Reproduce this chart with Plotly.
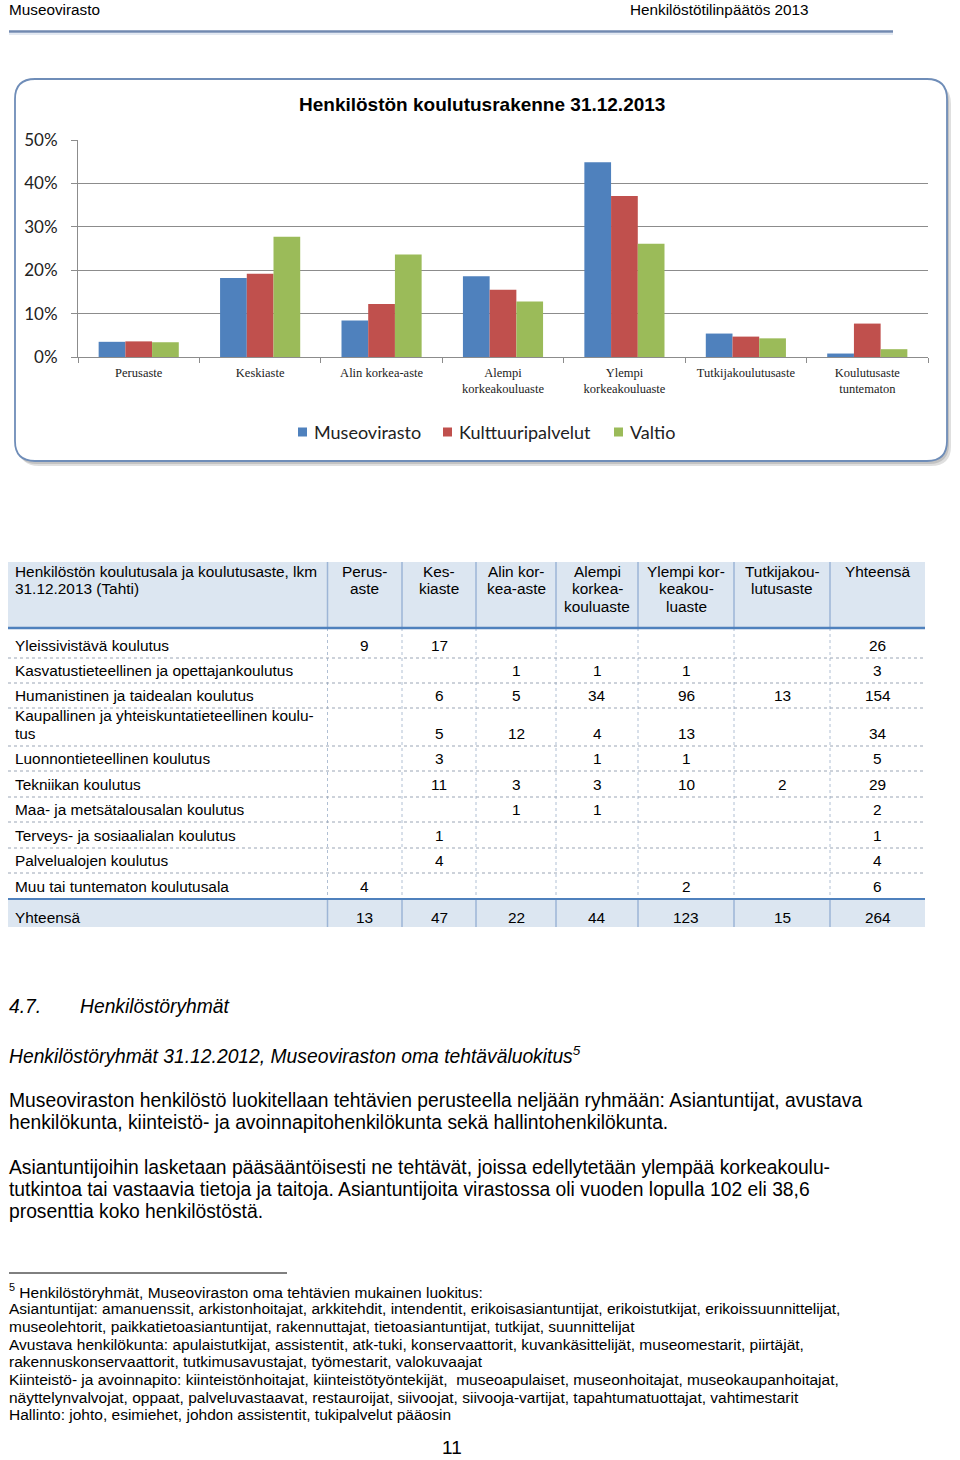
import plotly.graph_objects as go

W, H = 960, 1460

# ---------------- chart data ----------------
categories = ["Perusaste", "Keskiaste", "Alin korkea-aste", "Alempi<br>korkeakouluaste",
              "Ylempi<br>korkeakouluaste", "Tutkijakoulutusaste", "Koulutusaste<br>tuntematon"]
series_names = ["Museovirasto", "Kulttuuripalvelut", "Valtio"]
museovirasto = [0.035, 0.182, 0.084, 0.186, 0.449, 0.054, 0.008]
kulttuuripalvelut = [0.036, 0.192, 0.122, 0.155, 0.371, 0.047, 0.077]
valtio = [0.034, 0.277, 0.236, 0.128, 0.261, 0.043, 0.018]
y_tick_values = [0, 0.1, 0.2, 0.3, 0.4, 0.5]
chart_title = "Henkilöstön koulutusrakenne 31.12.2013"

# ---------------- table data ----------------
table_header = ["Henkilöstön koulutusala ja koulutusaste, lkm<br>31.12.2013 (Tahti)",
                "Perus-<br>aste", "Kes-<br>kiaste", "Alin kor-<br>kea-aste",
                "Alempi<br>korkea-<br>kouluaste", "Ylempi kor-<br>keakou-<br>luaste",
                "Tutkijakou-<br>lutusaste", "Yhteensä"]
row_labels = ["Yleissivistävä koulutus",
              "Kasvatustieteellinen ja opettajankoulutus",
              "Humanistinen ja taidealan koulutus",
              "Kaupallinen ja yhteiskuntatieteellinen koulu-<br>tus",
              "Luonnontieteellinen koulutus",
              "Tekniikan koulutus",
              "Maa- ja metsätalousalan koulutus",
              "Terveys- ja sosiaalialan koulutus",
              "Palvelualojen koulutus",
              "Muu tai tuntematon koulutusala",
              "Yhteensä"]
col_perusaste = [9, None, None, None, None, None, None, None, None, 4, 13]
col_keskiaste = [17, None, 6, 5, 3, 11, None, 1, 4, None, 47]
col_alin = [None, 1, 5, 12, None, 3, 1, None, None, None, 22]
col_alempi = [None, 1, 34, 4, 1, 3, 1, None, None, None, 44]
col_ylempi = [None, 1, 96, 13, 1, 10, None, None, None, 2, 123]
col_tutkija = [None, None, 13, None, None, 2, None, None, None, None, 15]
col_yhteensa = [26, 3, 154, 34, 5, 29, 2, 1, 4, 6, 264]

# ---------------- text ----------------
header_left = "Museovirasto"
header_right = "Henkilöstötilinpäätös 2013"
section_no = "4.7."
section_title = "Henkilöstöryhmät"
sub_title = "Henkilöstöryhmät 31.12.2012, Museoviraston oma tehtäväluokitus<sup>5</sup>"
para_lines = [
    "Museoviraston henkilöstö luokitellaan tehtävien perusteella neljään ryhmään: Asiantuntijat, avustava",
    "henkilökunta, kiinteistö- ja avoinnapitohenkilökunta sekä hallintohenkilökunta.",
    "Asiantuntijoihin lasketaan pääsääntöisesti ne tehtävät, joissa edellytetään ylempää korkeakoulu-",
    "tutkintoa tai vastaavia tietoja ja taitoja. Asiantuntijoita virastossa oli vuoden lopulla 102 eli 38,6",
    "prosenttia koko henkilöstöstä.",
]
footnote_lines = [
    "<sup>5</sup> Henkilöstöryhmät, Museoviraston oma tehtävien mukainen luokitus:",
    "Asiantuntijat: amanuenssit, arkistonhoitajat, arkkitehdit, intendentit, erikoisasiantuntijat, erikoistutkijat, erikoissuunnittelijat,",
    "museolehtorit, paikkatietoasiantuntijat, rakennuttajat, tietoasiantuntijat, tutkijat, suunnittelijat",
    "Avustava henkilökunta: apulaistutkijat, assistentit, atk-tuki, konservaattorit, kuvankäsittelijät, museomestarit, piirtäjät,",
    "rakennuskonservaattorit, tutkimusavustajat, työmestarit, valokuvaajat",
    "Kiinteistö- ja avoinnapito: kiinteistönhoitajat, kiinteistötyöntekijät,  museoapulaiset, museonhoitajat, museokaupanhoitajat,",
    "näyttelynvalvojat, oppaat, palveluvastaavat, restauroijat, siivoojat, siivooja-vartijat, tapahtumatuottajat, vahtimestarit",
    "Hallinto: johto, esimiehet, johdon assistentit, tukipalvelut pääosin",
]
page_number = "11"

ARIAL = "Liberation Sans, Arial, sans-serif"
CALIBRI = "Lato, Calibri, sans-serif"
TIMES = "Liberation Serif, Times New Roman, serif"


def px(x):
    return x / W


def py(y):
    return 1 - y / H


colors = ["#4f81bd", "#c0504d", "#9bbb59"]
fig = go.Figure()
for name, vals, col in zip(series_names, [museovirasto, kulttuuripalvelut, valtio], colors):
    fig.add_trace(go.Bar(x=categories, y=vals, name=name, showlegend=False,
                         marker=dict(color=col, line=dict(width=0))))

shapes = []
ann = []


def txt(x, y, s, size, family=ARIAL, anchor="left", color="#000", xref="paper", yref="paper", yanchor="middle"):
    if xref == "paper":
        xx, yy = px(x), py(y)
    else:
        xx, yy = x, y
    ann.append(dict(x=xx, y=yy, xref=xref, yref=yref, text=s, showarrow=False, borderpad=0,
                    xanchor=anchor, yanchor=yanchor, font=dict(family=family, size=size, color=color)))


# ---------------- page header ----------------
shapes.append(dict(type="line", xref="paper", yref="paper", x0=px(9), x1=px(893), y0=py(31.5), y1=py(31.5),
                   line=dict(color="#7189b0", width=2.5)))
shapes.append(dict(type="line", xref="paper", yref="paper", x0=px(9), x1=px(893), y0=py(34), y1=py(34),
                   line=dict(color="#c7d4e6", width=1.2)))
txt(8, 0, header_left, 15.3, yanchor="top")
txt(629, 0, header_right, 15.3, yanchor="top")


def rounded(x0, y0, x1, y1, r):
    pts = [
        f"M {px(x0 + r)} {py(y0)}",
        f"L {px(x1 - r)} {py(y0)}",
        f"Q {px(x1)} {py(y0)} {px(x1)} {py(y0 + r)}",
        f"L {px(x1)} {py(y1 - r)}",
        f"Q {px(x1)} {py(y1)} {px(x1 - r)} {py(y1)}",
        f"L {px(x0 + r)} {py(y1)}",
        f"Q {px(x0)} {py(y1)} {px(x0)} {py(y1 - r)}",
        f"L {px(x0)} {py(y0 + r)}",
        f"Q {px(x0)} {py(y0)} {px(x0 + r)} {py(y0)}",
        "Z",
    ]
    return " ".join(pts)


# chart box shadow + box
shapes.append(dict(type="path", xref="paper", yref="paper", path=rounded(19, 84, 951, 466, 20),
                   fillcolor="rgba(150,150,150,0.30)", line=dict(width=0), layer="below"))
shapes.append(dict(type="path", xref="paper", yref="paper", path=rounded(17, 82, 949, 464, 20),
                   fillcolor="rgba(140,140,140,0.35)", line=dict(width=0), layer="below"))
shapes.append(dict(type="path", xref="paper", yref="paper", path=rounded(15, 79, 947, 461, 20),
                   fillcolor="white", line=dict(color="#6f8db8", width=1.8), layer="below"))
txt(482, 104, "<b>" + chart_title + "</b>", 19, anchor="center")

# custom legend
legend_x = [298, 443, 614]
for lx, name, col in zip(legend_x, series_names, colors):
    shapes.append(dict(type="rect", xref="paper", yref="paper", x0=px(lx), x1=px(lx + 9),
                       y0=py(436.5), y1=py(427.5), fillcolor=col, line=dict(width=0)))
    txt(lx + 15, 432, name, 18, family=CALIBRI, color="#222")

# ---------------- table (hidden pixel-unit axes x2/y2) ----------------
tbl_x0 = 8
col_widths = [319.5, 74.5, 74, 80, 82, 96, 96, 95]
col_edges = [tbl_x0]
for w in col_widths:
    col_edges.append(col_edges[-1] + w)
hdr_top, hdr_h = 562, 66
row_heights = [30, 25, 25, 38, 25, 26, 25, 26, 25, 26, 28]
row_edges = [hdr_top + hdr_h]
for h in row_heights:
    row_edges.append(row_edges[-1] + h)
TFS = 15.4
HDR_FILL = "#dce6f1"
BLUE = "#4f81bd"
SEP = "#9db5d6"
DOT = "#9aa5b5"
left_pad = 6

# header background
shapes.append(dict(type="rect", xref="x2", yref="y2", x0=col_edges[0], x1=col_edges[-1],
                   y0=hdr_top, y1=row_edges[0], fillcolor=HDR_FILL, line=dict(width=0), layer="below"))
# totals background
shapes.append(dict(type="rect", xref="x2", yref="y2", x0=col_edges[0], x1=col_edges[-1],
                   y0=row_edges[-2], y1=row_edges[-1], fillcolor=HDR_FILL, line=dict(width=0), layer="below"))
# column separators
for ce in col_edges[1:-1]:
    shapes.append(dict(type="line", xref="x2", yref="y2", x0=ce, x1=ce, y0=hdr_top, y1=row_edges[0],
                       line=dict(color=SEP, width=1.5)))
    shapes.append(dict(type="line", xref="x2", yref="y2", x0=ce, x1=ce, y0=row_edges[0], y1=row_edges[-2],
                       line=dict(color="#b0bfd3", width=1, dash="dot")))
    shapes.append(dict(type="line", xref="x2", yref="y2", x0=ce, x1=ce, y0=row_edges[-2], y1=row_edges[-1],
                       line=dict(color=SEP, width=1.5)))
# row separators
for re_ in row_edges[1:-2]:
    shapes.append(dict(type="line", xref="x2", yref="y2", x0=col_edges[0], x1=col_edges[-1], y0=re_, y1=re_,
                       line=dict(color=DOT, width=1, dash="dot")))
shapes.append(dict(type="line", xref="x2", yref="y2", x0=col_edges[0], x1=col_edges[-1],
                   y0=row_edges[0], y1=row_edges[0], line=dict(color=BLUE, width=2.5)))
shapes.append(dict(type="line", xref="x2", yref="y2", x0=col_edges[0], x1=col_edges[-1],
                   y0=row_edges[-2], y1=row_edges[-2], line=dict(color=BLUE, width=1.8)))

# header texts
for ci, label in enumerate(table_header):
    for li, part in enumerate(label.split("<br>")):
        yv = hdr_top + 9 + li * 17.5
        if ci == 0:
            txt(col_edges[0] + left_pad, yv, part, TFS, xref="x2", yref="y2")
        else:
            txt((col_edges[ci] + col_edges[ci + 1]) / 2, yv, part, TFS, anchor="center", xref="x2", yref="y2")

value_cols = [col_perusaste, col_keskiaste, col_alin, col_alempi, col_ylempi, col_tutkija, col_yhteensa]
n_rows = len(row_labels)
for ri in range(n_rows):
    bottom = row_edges[ri + 1]
    last_y = bottom - (9.5 if ri == n_rows - 1 else 12.5)
    parts = row_labels[ri].split("<br>")
    for li, part in enumerate(parts):
        yv = last_y - (len(parts) - 1 - li) * 18
        txt(col_edges[0] + left_pad, yv, part, TFS, xref="x2", yref="y2")
    for ci, col in enumerate(value_cols):
        v = col[ri]
        if v is None:
            continue
        txt((col_edges[ci + 1] + col_edges[ci + 2]) / 2, last_y, str(v), TFS, anchor="center",
            xref="x2", yref="y2")

# ---------------- body text ----------------
txt(8, 1006, "<i>" + section_no + "</i>", 19.3)
txt(79, 1006, "<i>" + section_title + "</i>", 19.3)
txt(8, 1055, "<i>" + sub_title + "</i>", 19.3)
for yv, line in zip([1100, 1122, 1167, 1189, 1211], para_lines):
    txt(8, yv, line, 19.3)
shapes.append(dict(type="line", xref="paper", yref="paper", x0=px(9), x1=px(287), y0=py(1273), y1=py(1273),
                   line=dict(color="#000", width=1)))
for i, line in enumerate(footnote_lines):
    txt(8, 1291 + i * 17.7, line, 15.5)
txt(452, 1459, page_number, 19, anchor="center", yanchor="bottom")

fig.update_layout(
    width=W, height=H, margin=dict(l=0, r=0, t=0, b=0, pad=0, autoexpand=False),
    paper_bgcolor="white", plot_bgcolor="rgba(0,0,0,0)",
    barmode="group", bargap=0.34, bargroupgap=0,
    shapes=shapes, annotations=ann,
    showlegend=False,
    xaxis=dict(domain=[px(78), px(928)], showgrid=False, showline=True, linecolor="#8c8c8c", linewidth=1,
               ticks="outside", tickson="boundaries", ticklen=5, tickcolor="#8c8c8c",
               ticklabelstandoff=4, automargin=False,
               tickfont=dict(family=TIMES, size=12.5, color="#222"),
               fixedrange=True),
    yaxis=dict(domain=[py(357), py(140)], range=[0, 0.5], tickvals=y_tick_values, tickformat=".0%",
               showgrid=True, gridcolor="#8c8c8c", gridwidth=1, showline=True, linecolor="#8c8c8c",
               ticks="outside", ticklen=6, tickcolor="#8c8c8c", ticklabelstandoff=10,
               zeroline=False, automargin=False,
               tickfont=dict(family=CALIBRI, size=17, color="#222"),
               fixedrange=True),
    xaxis2=dict(domain=[0, 1], range=[0, W], visible=False, anchor="y2", fixedrange=True),
    yaxis2=dict(domain=[0, 1], range=[H, 0], visible=False, anchor="x2", fixedrange=True),
)

fig.write_html("out.html")
